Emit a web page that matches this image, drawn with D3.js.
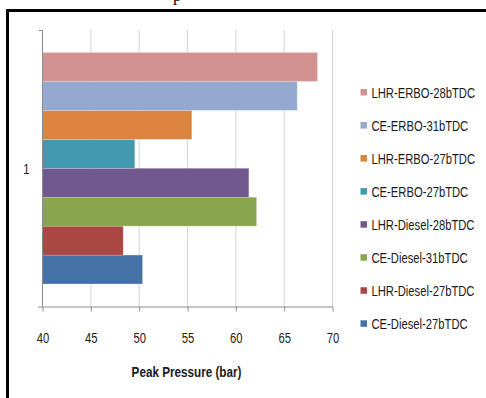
<!DOCTYPE html>
<html>
<head>
<meta charset="utf-8">
<script src="https://cdn.jsdelivr.net/npm/d3@7"></script>
<style>
  html, body { margin: 0; padding: 0; background: #fff; }
  svg { display: block; }
  text { font-family: "Liberation Sans", Arial, sans-serif; fill: #1a1a1a; }
</style>
</head>
<body>
<svg id="chart" width="486" height="398"></svg>
<script>
// Series in drawing order, bottom bar first
const seriesNames = [
  "CE-Diesel-27bTDC", "LHR-Diesel-27bTDC", "CE-Diesel-31bTDC", "LHR-Diesel-28bTDC",
  "CE-ERBO-27bTDC", "LHR-ERBO-27bTDC", "CE-ERBO-31bTDC", "LHR-ERBO-28bTDC"
];
const peakPressure = [50.4, 48.4, 62.2, 61.4, 49.6, 55.5, 66.4, 68.5];
const seriesColors = ["#4572A7", "#AA4643", "#89A54E", "#71588F", "#4198AF", "#DB843D", "#93A9CF", "#D19392"];
const categories = ["1"];
const xTicks = [40, 45, 50, 55, 60, 65, 70];
const xTitle = "Peak Pressure (bar)";

// condensed look: the sans face squeezed horizontally
const NARROW = 0.73;
const LABEL_SIZE = "15.4px";

const svg = d3.select("#chart");

// outer frame
svg.append("rect")
  .attr("x", 7.5).attr("y", 10.5).attr("width", 520).attr("height", 420)
  .attr("fill", "none").attr("stroke", "#000").attr("stroke-width", 3);

// caption fragment above the frame
svg.append("text").attr("x", 173).attr("y", 0.5)
  .style("font-family", "'Liberation Serif', serif").style("font-size", "17px")
  .style("fill", "#000").text("p");

const plot = { left: 42, right: 332, top: 30, bottom: 306.5 };

const x = d3.scaleLinear().domain([40, 70]).range([plot.left, plot.right]);
const yCat = d3.scaleBand().domain(categories).range([plot.bottom, plot.top]);
const ySeries = d3.scaleBand().domain(seriesNames)
  .range([yCat("1") + yCat.bandwidth() - 22.5, yCat("1") + 22.5]);

// vertical gridlines
svg.append("g").selectAll("line").data(xTicks).join("line")
  .attr("x1", d => x(d) + 0.5).attr("x2", d => x(d) + 0.5)
  .attr("y1", plot.top).attr("y2", plot.bottom)
  .attr("stroke", "#d4d4d4").attr("stroke-width", 1);

// bars
svg.append("g").selectAll("rect").data(seriesNames).join("rect")
  .attr("x", x(40))
  .attr("y", d => ySeries(d))
  .attr("width", (d, i) => x(peakPressure[i]) - x(40))
  .attr("height", ySeries.bandwidth())
  .attr("fill", (d, i) => seriesColors[i])
  .attr("stroke", "rgba(255,255,255,0.35)").attr("stroke-width", 0.6);

// value axis
const xAxis = d3.axisBottom(x).tickValues(xTicks).tickSize(5);
const gx = svg.append("g").attr("transform", `translate(0.5,${plot.bottom})`).call(xAxis);
gx.select(".domain").attr("d", `M${plot.left - 4.5},0.5H${plot.right}`).attr("stroke", "#8c8c8c");
gx.selectAll(".tick line").attr("stroke", "#8c8c8c");
gx.selectAll(".tick text")
  .style("font-family", "'Liberation Sans', sans-serif")
  .style("font-size", LABEL_SIZE).attr("fill", "#1a1a1a")
  .attr("y", 0).attr("dy", null)
  .attr("transform", `translate(0,36.2) scale(${NARROW},1)`);

// category axis
const yAxis = d3.axisLeft(yCat).tickSize(0).tickPadding(0);
const gy = svg.append("g").attr("transform", `translate(${plot.left + 0.5},0)`).call(yAxis);
gy.select(".domain").attr("d", `M-4,${plot.top + 0.5}H0V${plot.bottom}`).attr("stroke", "#8c8c8c").attr("fill", "none");
gy.selectAll(".tick text")
  .style("font-family", "'Liberation Sans', sans-serif")
  .style("font-size", LABEL_SIZE).attr("fill", "#1a1a1a")
  .attr("x", 0).attr("dy", null).attr("text-anchor", "middle")
  .attr("transform", `translate(-16.2,5.7) scale(${NARROW},1)`);

// axis title
svg.append("g")
  .attr("transform", `translate(${(plot.left + plot.right) / 2 - 0.5},377.3) scale(0.78,1)`)
  .append("text")
  .attr("text-anchor", "middle")
  .style("font-size", "15px").style("font-weight", "bold")
  .text(xTitle);

// legend, top entry is the last series
const legendItems = seriesNames.map((n, i) => ({ name: n, color: seriesColors[i] })).reverse();
const legendY = d3.scalePoint().domain(legendItems.map(d => d.name)).range([92.5, 323.8]);
const lg = svg.append("g").selectAll("g").data(legendItems).join("g")
  .attr("transform", d => `translate(360.5,${legendY(d.name)})`);
lg.append("rect").attr("x", 0).attr("y", -3.5).attr("width", 6.5).attr("height", 6.5)
  .attr("fill", d => d.color);
lg.append("text")
  .attr("transform", `translate(11,5.5) scale(${NARROW},1)`)
  .style("font-size", LABEL_SIZE).text(d => d.name);
</script>
</body>
</html>
